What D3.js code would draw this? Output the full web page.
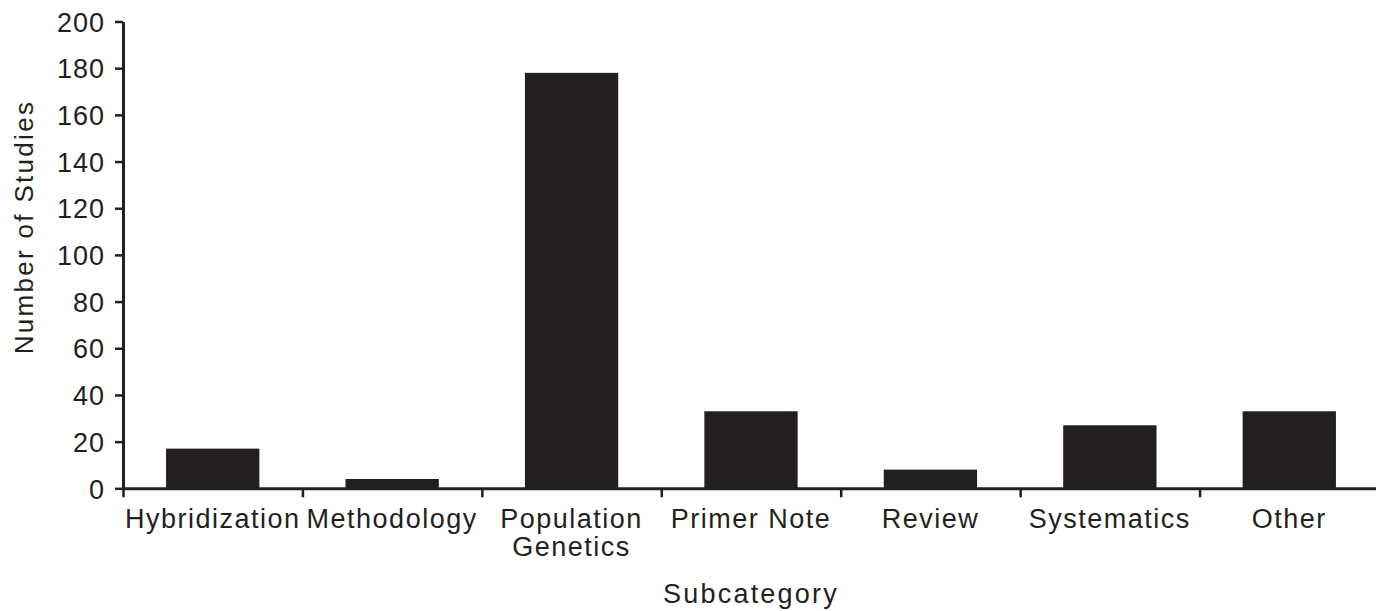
<!DOCTYPE html>
<html>
<head>
<meta charset="utf-8">
<script src="https://cdn.jsdelivr.net/npm/d3@7"></script>
<style>
  body { margin: 0; background: #fff; }
  text { font-family: "Liberation Sans", Arial, sans-serif; fill: #231f20; }
</style>
</head>
<body>
<div class="chart"></div>
<script>
// data
const categories = ["Hybridization", "Methodology", "Population Genetics", "Primer Note", "Review", "Systematics", "Other"];
const studies = [17, 4, 178, 33, 8, 27, 33];
const yTicks = [0, 20, 40, 60, 80, 100, 120, 140, 160, 180, 200];

const W = 1376, H = 611;
const ink = "#231f20";
const plot = {left: 123, right: 1379, top: 21.5, bottom: 488.3};

const svg = d3.select(".chart").append("svg")
  .attr("width", W).attr("height", H);

const x = d3.scaleBand().domain(categories).range([plot.left, plot.right])
  .paddingInner(0.48).paddingOuter(0.24);
// boundaries between categories, for the tick marks
const xb = d3.scaleLinear().domain([0, categories.length]).range([plot.left, plot.right]);
const y = d3.scaleLinear().domain([0, 200]).range([plot.bottom, plot.top]);

// bars
svg.append("g")
  .selectAll("rect")
  .data(categories)
  .join("rect")
  .attr("x", d => x(d))
  .attr("width", x.bandwidth())
  .attr("y", (d, i) => y(studies[i]))
  .attr("height", (d, i) => y(0) - y(studies[i]))
  .attr("fill", ink);

// y axis
const yAxis = svg.append("g")
  .attr("transform", `translate(${plot.left},0)`)
  .call(d3.axisLeft(y).tickValues(yTicks).tickSize(8).tickPadding(10).tickSizeOuter(0));
yAxis.select(".domain").attr("stroke", ink).attr("stroke-width", 3);
yAxis.selectAll(".tick line").attr("stroke", ink).attr("stroke-width", 2.5);
yAxis.selectAll(".tick text")
  .attr("font-size", 27).attr("letter-spacing", 1)
  .attr("dy", "0.36em").attr("fill", ink)
  .style("font-family", "Liberation Sans, Arial, sans-serif");

// x axis line + boundary ticks
const xTickAxis = svg.append("g")
  .attr("transform", `translate(0,${plot.bottom})`)
  .call(d3.axisBottom(xb).tickValues(d3.range(0, categories.length + 1)).tickSize(9).tickFormat("").tickSizeOuter(0));
xTickAxis.select(".domain").attr("stroke", ink).attr("stroke-width", 3);
xTickAxis.selectAll(".tick line").attr("stroke", ink).attr("stroke-width", 2.5);

// category labels
const labels = svg.append("g")
  .selectAll("text")
  .data(categories)
  .join("text")
  .attr("x", d => x(d) + x.bandwidth() / 2)
  .attr("y", 528)
  .attr("text-anchor", "middle")
  .attr("font-size", 27)
  .attr("letter-spacing", 1.5);
labels.each(function(d) {
  const parts = d === "Population Genetics" ? ["Population", "Genetics"] : [d];
  const t = d3.select(this);
  parts.forEach((p, k) => {
    t.append("tspan")
      .attr("x", x(d) + x.bandwidth() / 2)
      .attr("dy", k === 0 ? 0 : 28)
      .text(p);
  });
});

// axis titles
svg.append("text")
  .attr("x", (plot.left + plot.right) / 2)
  .attr("y", 603)
  .attr("text-anchor", "middle")
  .attr("font-size", 27)
  .attr("letter-spacing", 2.2)
  .text("Subcategory");

svg.append("text")
  .attr("transform", "translate(33,227) rotate(-90)")
  .attr("text-anchor", "middle")
  .attr("font-size", 26)
  .attr("letter-spacing", 2.3)
  .text("Number of Studies");
</script>
</body>
</html>
